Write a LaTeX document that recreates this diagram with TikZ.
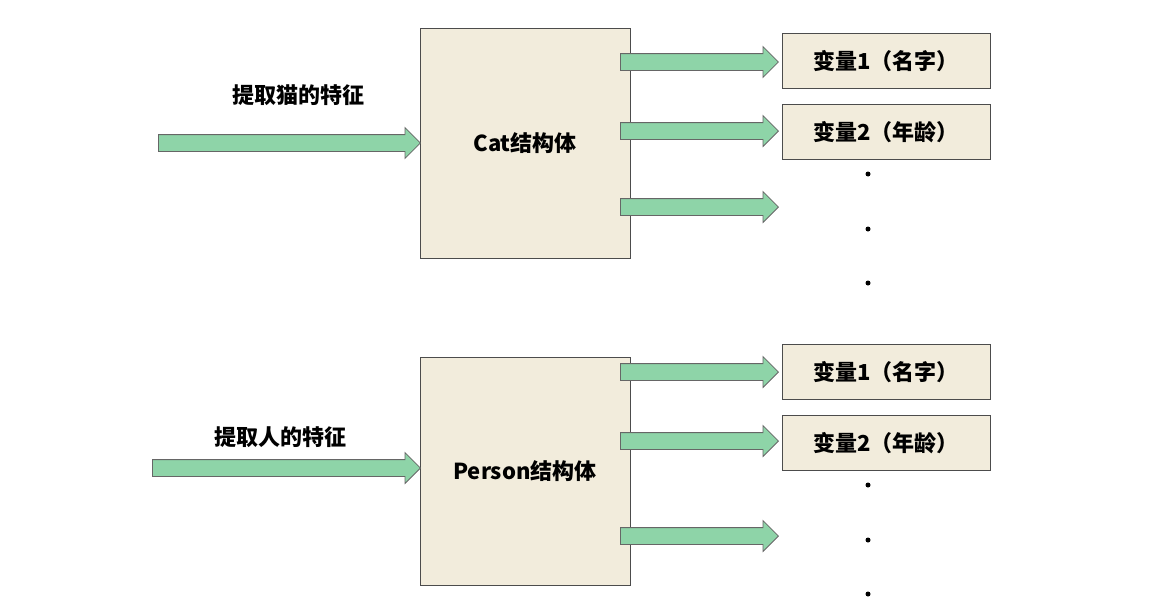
\documentclass[tikz,border=0pt]{standalone}
\usepackage{fontspec}
\setmainfont{Noto Sans CJK SC}
\usetikzlibrary{shapes.arrows}
\definecolor{boxfill}{HTML}{F2ECDC}
\definecolor{arrowfill}{HTML}{8ED4A8}
\tikzset{
  structbox/.style={draw=black!70, fill=boxfill, line width=0.8pt, inner sep=0pt},
  varbox/.style={draw=black!70, fill=boxfill, line width=0.8pt, minimum width=208pt, minimum height=55pt, inner sep=0pt, font=\bfseries\fontsize{22}{26}\selectfont},
  blockarrow/.style={single arrow, draw=black!60, fill=arrowfill, line width=0.8pt, text height=8pt, text depth=8pt, minimum width=30pt, single arrow head extend=7pt, single arrow tip angle=90, inner sep=0pt, anchor=west},
  lbl/.style={font=\bfseries\fontsize{22}{26}\selectfont},
  dot/.style={circle, fill=black, inner sep=0pt, minimum size=5pt}
}
\begin{document}
\begin{tikzpicture}[x=1pt,y=-1pt]
\useasboundingbox (0,0) rectangle (1155,611);
% cat part
\node (cat) [structbox, minimum width=210pt, minimum height=230pt, lbl] at (525,143) {Cat结构体};
\node (catlbl) [lbl] at (298,95) {提取猫的特征};
\node (catin) [blockarrow, minimum height=262pt] at (158,143) {};
\node (catvarA) [varbox] at (886,61) {变量1（名字）};
\node (catvarB) [varbox] at (886,132) {变量2（年龄）};
\node (catoutA) [blockarrow, minimum height=158pt] at (620,62) {};
\node (catoutB) [blockarrow, minimum height=158pt] at (620,131) {};
\node (catoutC) [blockarrow, minimum height=158pt] at (620,207) {};
\foreach \y [count=\i] in {174,229,283}
  \node (catdot\i) [dot] at (868,\y) {};
% person part
\node (person) [structbox, minimum width=210pt, minimum height=228pt, lbl] at (525,471) {Person结构体};
\node (personlbl) [lbl] at (280,437) {提取人的特征};
\node (personin) [blockarrow, minimum height=268pt] at (152,468) {};
\node (personvarA) [varbox] at (886,372) {变量1（名字）};
\node (personvarB) [varbox] at (886,443) {变量2（年龄）};
\node (personoutA) [blockarrow, minimum height=158pt] at (620,372) {};
\node (personoutB) [blockarrow, minimum height=158pt] at (620,441) {};
\node (personoutC) [blockarrow, minimum height=158pt] at (620,536) {};
\foreach \y [count=\i] in {485,540,594}
  \node (persondot\i) [dot] at (868,\y) {};
\end{tikzpicture}
\end{document}
